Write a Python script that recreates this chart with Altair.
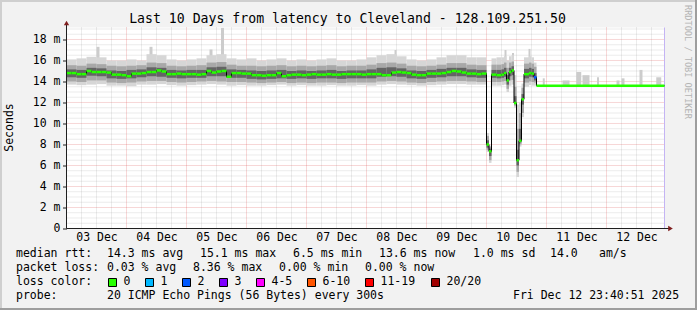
import altair as alt
import pandas as pd

# ---------------- data ----------------
# time axis: hours since 03 Dec 00:00; window ends 12 Dec ~23:40
X_END = 239.2
Y_TOP = 19.14

day_labels = ['03 Dec', '04 Dec', '05 Dec', '06 Dec', '07 Dec',
              '08 Dec', '09 Dec', '10 Dec', '11 Dec', '12 Dec']
y_tick_values = [0, 2, 4, 6, 8, 10, 12, 14, 16, 18]

# median rtt [ms], 2-hour samples, 03 Dec 00:00 .. 10 Dec 00:00
median_2h = [14.8, 14.8, 14.7, 14.7, 15.0, 14.9, 14.9, 14.9, 14.85, 14.65,
             14.65, 14.6, 14.5, 14.75, 14.75, 14.8, 14.9, 14.9, 15.05, 14.95,
             14.7, 14.7, 14.75, 14.7, 14.7, 14.7, 14.65, 14.7, 15.0, 14.85,
             14.95, 15.0, 14.45, 14.8, 14.8, 14.75, 14.75, 14.6, 14.6, 14.55,
             14.6, 14.6, 14.8, 14.5, 14.6, 14.65, 14.65, 14.6, 14.65, 14.7,
             14.65, 14.65, 14.7, 14.65, 14.65, 14.7, 14.7, 14.7, 14.7, 14.65,
             14.7, 14.7, 14.7, 14.6, 14.6, 14.85, 14.9, 14.85, 14.8, 14.65,
             14.6, 14.6, 14.75, 14.75, 14.75, 14.8, 14.9, 15.0, 14.95, 14.85,
             14.75, 14.75, 14.7, 14.75]

# smoke (ping distribution) [ms], 4-hour samples over the same period
smoke_max = [16.1, 16.2, 16.35, 16.3, 16.0, 16.0, 16.1, 16.0, 16.6, 16.5,
             16.1, 16.0, 16.1, 16.2, 16.5, 16.6, 16.2, 16.1, 16.2, 16.0,
             16.1, 16.2, 16.0, 16.1, 16.0, 16.1, 16.2, 16.0, 16.0, 16.1,
             16.3, 16.5, 16.6, 16.4, 16.1, 16.0, 16.1, 16.3, 16.5, 16.5,
             16.3, 16.3]
smoke_p90 = [15.55, 15.5, 15.7, 15.65, 15.5, 15.45, 15.5, 15.55, 15.8, 15.75,
             15.5, 15.45, 15.5, 15.55, 15.8, 15.85, 15.6, 15.5, 15.5, 15.45,
             15.5, 15.55, 15.45, 15.5, 15.45, 15.5, 15.55, 15.45, 15.5, 15.5,
             15.6, 15.75, 15.8, 15.7, 15.5, 15.45, 15.5, 15.6, 15.75, 15.75,
             15.6, 15.55]
smoke_p75 = [15.15, 15.1, 15.3, 15.25, 15.05, 15.0, 15.1, 15.15, 15.35, 15.3,
             15.1, 15.05, 15.1, 15.1, 15.35, 15.4, 15.15, 15.1, 15.05, 15.0,
             15.05, 15.1, 15.0, 15.05, 15.0, 15.05, 15.1, 15.0, 15.05, 15.05,
             15.15, 15.3, 15.35, 15.25, 15.05, 15.0, 15.1, 15.2, 15.3, 15.3,
             15.15, 15.1]
smoke_p25 = [14.4, 14.35, 14.55, 14.5, 14.3, 14.25, 14.3, 14.4, 14.5, 14.45,
             14.35, 14.3, 14.35, 14.35, 14.5, 14.5, 14.35, 14.35, 14.25, 14.2,
             14.25, 14.3, 14.25, 14.3, 14.25, 14.3, 14.3, 14.25, 14.3, 14.3,
             14.3, 14.45, 14.5, 14.45, 14.3, 14.25, 14.35, 14.4, 14.5, 14.5,
             14.4, 14.35]
smoke_p10 = [14.0, 13.95, 14.1, 14.1, 13.9, 13.85, 13.9, 14.0, 14.05, 14.05,
             13.95, 13.9, 13.95, 14.0, 14.05, 14.0, 13.95, 13.95, 13.9, 13.85,
             13.9, 13.95, 13.85, 13.9, 13.85, 13.9, 13.9, 13.85, 13.9, 13.9,
             13.9, 14.0, 14.05, 14.0, 13.9, 13.85, 13.95, 14.0, 14.05, 14.05,
             14.0, 13.95]
smoke_min = [13.7, 13.65, 13.7, 13.75, 13.6, 13.6, 13.55, 13.7, 13.7, 13.75,
             13.65, 13.6, 13.65, 13.7, 13.75, 13.7, 13.6, 13.65, 13.6, 13.6,
             13.65, 13.7, 13.6, 13.65, 13.6, 13.6, 13.65, 13.6, 13.6, 13.65,
             13.6, 13.7, 13.75, 13.7, 13.65, 13.6, 13.65, 13.7, 13.75, 13.75,
             13.7, 13.7]

# 10 Dec onwards: irregular samples (segment boundaries in hours)
late_bounds = [168, 169, 170, 172, 174, 175, 176, 177, 178, 179, 180, 181,
               182, 183, 185, 186, 187, 188, X_END]
late_median = [8.0, 7.35, 14.65, 14.6, 14.65, 14.8, 14.1, 14.9, 15.05, 11.95,
               6.5, 8.35, 12.3, 14.7, 14.8, 14.75, 14.4, 13.6]
late_loss = [0, 0, 0, 0, 0, 0, 0, 0, 0, 0, 0, 0, 0, 0, 0, 0, 2, 0]
late_min = [7.3, 6.25, 13.6, 13.6, 13.65, 13.7, 13.0, 13.6, 13.7, 11.5,
            4.9, 7.8, 10.6, 13.5, 13.65, 13.6, 13.6, 13.6]
late_p10 = [7.5, 6.5, 13.95, 13.95, 14.0, 14.05, 13.3, 14.1, 14.15, 11.7,
            5.4, 8.0, 11.0, 13.9, 14.0, 13.95, 13.9, 13.6]
late_p25 = [7.7, 6.9, 14.35, 14.3, 14.35, 14.45, 13.7, 14.5, 14.6, 11.85,
            6.0, 8.2, 11.8, 14.3, 14.45, 14.4, 14.1, 13.6]
late_p75 = [8.4, 7.6, 15.1, 15.1, 15.15, 15.3, 14.6, 15.3, 15.45, 12.6,
            7.5, 9.5, 12.8, 15.2, 15.3, 15.2, 14.8, 13.6]
late_p90 = [8.8, 7.8, 15.6, 15.6, 15.65, 15.8, 15.3, 15.8, 15.9, 13.5,
            9.5, 11.0, 13.4, 15.7, 15.8, 15.7, 15.4, 13.6]
late_max = [9.1, 7.9, 16.2, 16.3, 16.3, 16.4, 16.0, 16.4, 16.5, 14.6,
            11.8, 12.0, 13.8, 16.3, 16.4, 16.3, 15.8, 13.6]

# single-ping outliers
spike_t0 = [12.0, 33.2, 57.2, 61.8, 131.2, 175.2, 178.2, 184.8,
            190.5, 198.4, 203.9, 206.4, 212.2, 220.0, 222.0, 229.2, 235.9]
spike_t1 = [13.2, 34.4, 58.4, 63.0, 132.0, 176.0, 179.0, 185.6,
            191.3, 201.2, 205.9, 209.2, 213.0, 221.2, 223.2, 230.4, 237.9]
spike_base = [15.5, 15.5, 15.5, 15.5, 15.5, 15.5, 15.5, 15.5,
              13.6, 13.6, 13.6, 13.6, 13.6, 13.6, 13.6, 13.6, 13.6]
spike_top = [17.3, 17.3, 17.05, 19.1, 17.0, 17.0, 16.7, 17.1,
             14.3, 14.1, 14.9, 14.6, 14.4, 14.1, 14.3, 15.1, 14.4]

loss_labels = ['0', '1', '2', '3', '4-5', '6-10', '11-19', '20/20']
loss_colors = ['#26ff00', '#00b8ff', '#0059ff', '#7e00ff', '#ff00ff',
               '#ff5500', '#ff0000', '#a10000']

title_text = 'Last 10 Days from latency to Cleveland - 128.109.251.50'
row1 = ['median rtt:', '14.3 ms avg', '15.1 ms max', '6.5 ms min',
        '13.6 ms now', '1.0 ms sd', '14.0', 'am/s']
row2 = ['packet loss:', '0.03 % avg', '8.36 % max', '0.00 % min', '0.00 % now']
row3 = ['loss color:']
row4 = ['probe:', '20 ICMP Echo Pings (56 Bytes) every 300s',
        'Fri Dec 12 23:40:51 2025']

# ---------------- layout (pixels) ----------------
PADL, PADT = 66.5, 27.5
W, H = 598, 201
TOTW, TOTH = 697, 310
MONO = 'DejaVu Sans Mono'
FS = 11.5

row1_x = [16, 107, 200, 293, 379, 473, 550, 599]
row2_x = [16, 107, 193, 279, 365]
row3_x = [16]
row4_x = [16, 107, 513]
row_y = [254.3, 268.0, 282.3, 295.7]
box_x = [108, 145, 182, 219, 256, 307, 365, 431]

# ---------------- frames ----------------
stable_t0 = [2 * i for i in range(len(median_2h))]
med_df = pd.DataFrame({
    't0': stable_t0 + late_bounds[:-1],
    't1': [t + 2 for t in stable_t0] + late_bounds[1:],
    'med': median_2h + late_median,
    'col': [loss_colors[0]] * len(median_2h) + [loss_colors[k] for k in late_loss],
})
line_df = pd.DataFrame({'t': list(med_df['t0']) + [X_END],
                        'med': list(med_df['med']) + [late_median[-1]]})
smoke_t0 = [4 * i for i in range(len(smoke_min))]
smoke_df = pd.DataFrame({
    't0': smoke_t0 + late_bounds[:-1],
    't1': [t + 4 for t in smoke_t0] + late_bounds[1:],
    'mn': smoke_min + late_min, 'p10': smoke_p10 + late_p10,
    'p25': smoke_p25 + late_p25, 'p75': smoke_p75 + late_p75,
    'p90': smoke_p90 + late_p90, 'mx': smoke_max + late_max,
})
spike_df = pd.DataFrame({'t0': spike_t0, 't1': spike_t1,
                         'lo': spike_base, 'hi': spike_top})

minor_x = pd.DataFrame({'v': [h for h in range(6, 240, 6) if h % 24]})
major_x = pd.DataFrame({'v': list(range(24, 240, 24))})
minor_y = pd.DataFrame({'v': [k * 0.5 for k in range(1, 39) if k % 4]})
major_y = pd.DataFrame({'v': list(range(2, 20, 2))})

xs = alt.Scale(domain=[0, X_END], nice=False, zero=False)
ys = alt.Scale(domain=[0, Y_TOP], nice=False, zero=False)


def qx(f, **kw):
    return alt.X(f, type='quantitative', scale=xs, axis=None, **kw)


def qy(f, **kw):
    return alt.Y(f, type='quantitative', scale=ys, axis=None, **kw)


label_expr = '[' + ','.join("'%s'" % d for d in day_labels) + '][floor(datum.value/24)]'
x_axis = alt.Axis(values=[12 + 24 * i for i in range(len(day_labels))],
                  labelExpr=label_expr, ticks=False, tickSize=0, domain=False,
                  grid=False, labelFont=MONO, labelFontSize=FS, labelColor='#000000',
                  labelPadding=9, labelBaseline='middle', labelFlush=False,
                  labelOverlap=False, title=None)
y_axis = alt.Axis(values=y_tick_values,
                  labelExpr="datum.value == 0 ? '0\u00a0\u00a0' : datum.value + ' m'",
                  ticks=True, tickSize=4, tickColor='#1f1f1f', tickWidth=1,
                  domain=False, grid=False, labelFont=MONO, labelFontSize=FS,
                  labelColor='#000000', labelPadding=2.5, labelFlush=False,
                  labelOverlap=False, title=None)

layers = []
# grid
layers.append(alt.Chart(minor_x).mark_rule(color='#8f8f8f', strokeOpacity=0.35,
              strokeDash=[1, 1]).encode(x=qx('v')))
layers.append(alt.Chart(minor_y).mark_rule(color='#8f8f8f', strokeOpacity=0.35,
              strokeDash=[1, 1]).encode(y=qy('v')))
layers.append(alt.Chart(major_x).mark_rule(color='#de4f4f', strokeOpacity=0.45,
              strokeDash=[1, 1]).encode(
    x=alt.X('v:Q', scale=xs, axis=x_axis)))
layers.append(alt.Chart(major_y).mark_rule(color='#de4f4f', strokeOpacity=0.45,
              strokeDash=[1, 1]).encode(
    y=alt.Y('v:Q', scale=ys, axis=y_axis)))

one = pd.DataFrame({'a': [0]})
# "now" marker
layers.append(alt.Chart(one).mark_rule(color='#c4b4f4', strokeWidth=1).encode(
    x=alt.value(W), y=alt.value(0), y2=alt.value(H)))

# smoke
layers.append(alt.Chart(spike_df).mark_rect(color='#cccccc').encode(
    x=qx('t0'), x2='t1', y=qy('lo'), y2='hi'))
layers.append(alt.Chart(smoke_df).mark_rect(color='#d6d6d6').encode(
    x=qx('t0'), x2='t1', y=qy('mn'), y2='mx'))
layers.append(alt.Chart(smoke_df).mark_rect(color='#a8a8a8').encode(
    x=qx('t0'), x2='t1', y=qy('p10'), y2='p90'))
layers.append(alt.Chart(smoke_df).mark_rect(color='#646464').encode(
    x=qx('t0'), x2='t1', y=qy('p25'), y2='p75'))

# median line
layers.append(alt.Chart(line_df).mark_line(color='#000000', strokeWidth=1,
              interpolate='step-after').encode(x=qx('t'), y=qy('med')))
layers.append(alt.Chart(med_df).mark_rule(strokeWidth=2.5).encode(
    x=qx('t0'), x2='t1', y=qy('med'), color=alt.Color('col:N', scale=None)))

# axes lines and arrows
layers.append(alt.Chart(one).mark_rule(color='#1f1f1f', strokeWidth=1).encode(
    x=alt.value(0), y=alt.value(H), y2=alt.value(-5)))
layers.append(alt.Chart(one).mark_rule(color='#1f1f1f', strokeWidth=1).encode(
    x=alt.value(0), x2=alt.value(W + 5), y=alt.value(H)))
layers.append(alt.Chart(one).mark_point(shape='triangle-up', filled=True, size=28,
              color='#801f1f', opacity=1).encode(x=alt.value(0), y=alt.value(-4.5)))
layers.append(alt.Chart(one).mark_point(shape='triangle-right', filled=True, size=28,
              color='#801f1f', opacity=1).encode(x=alt.value(W + 6), y=alt.value(H)))

# texts
texts = []
for r, (items, xsx) in enumerate([(row1, row1_x), (row2, row2_x), (row3, row3_x),
                                  (row4, row4_x)]):
    for t, xx in zip(items, xsx):
        texts.append({'txt': t, 'x': xx - PADL, 'y': row_y[r] - PADT})
for lab, bx in zip(loss_labels, box_x):
    texts.append({'txt': lab, 'x': bx + 15.5 - PADL, 'y': row_y[2] - PADT})
text_df = pd.DataFrame(texts)
layers.append(alt.Chart(text_df).mark_text(align='left', baseline='middle', font=MONO,
              fontSize=FS, color='#000000').encode(
    x=alt.X('x:Q', scale=None, axis=None), y=alt.Y('y:Q', scale=None, axis=None),
    text='txt:N'))

box_df = pd.DataFrame({'x0': [b + 0.5 - PADL for b in box_x],
                       'x1': [b + 8.5 - PADL for b in box_x],
                       'col': loss_colors})
layers.append(alt.Chart(box_df).mark_rect(stroke='#000000', strokeWidth=1).encode(
    x=alt.X('x0:Q', scale=None, axis=None), x2='x1',
    y=alt.value(278.5 - PADT), y2=alt.value(286.5 - PADT),
    fill=alt.Color('col:N', scale=None)))

layers.append(alt.Chart(one).mark_text(align='center', baseline='middle', font=MONO,
              fontSize=13.2, color='#000000', text=title_text).encode(
    x=alt.value(347.5 - PADL), y=alt.value(18.7 - PADT)))
layers.append(alt.Chart(one).mark_text(align='center', baseline='middle', font=MONO,
              fontSize=FS, color='#000000', angle=270, text='Seconds').encode(
    x=alt.value(10 - PADL), y=alt.value(127.5 - PADT)))
layers.append(alt.Chart(one).mark_text(align='left', baseline='middle', font=MONO,
              fontSize=8.6, color='#b4b4b4', angle=90,
              text='RRDTOOL / TOBI OETIKER').encode(
    x=alt.value(688.3 - PADL), y=alt.value(5 - PADT)))

# 3D frame
frame_df = pd.DataFrame({
    'x0': [-PADL, -PADL + 1, -PADL, TOTW - PADL - 1],
    'x1': [TOTW - PADL, -PADL + 1, TOTW - PADL, TOTW - PADL - 1],
    'y0': [-PADT + 1, -PADT, TOTH - PADT - 1, -PADT],
    'y1': [-PADT + 1, TOTH - PADT, TOTH - PADT - 1, TOTH - PADT],
    'col': ['#cfcfcf', '#cfcfcf', '#9e9e9e', '#9e9e9e'],
})
layers.append(alt.Chart(frame_df).mark_rule(strokeWidth=2).encode(
    x=alt.X('x0:Q', scale=None, axis=None), x2='x1',
    y=alt.Y('y0:Q', scale=None, axis=None), y2='y1',
    color=alt.Color('col:N', scale=None)))

chart = alt.layer(*layers).properties(
    width=W, height=H,
    padding={'left': PADL, 'top': PADT, 'right': TOTW - W - PADL, 'bottom': TOTH - H - PADT},
    autosize=alt.AutoSizeParams(type='none'),
    background='#f2f2f2',
).resolve_scale(x='independent', y='independent', color='independent', fill='independent'
).configure_view(stroke=None, fill='#ffffff')

chart.save('out.html', embed_options={'renderer': 'svg', 'actions': False})
